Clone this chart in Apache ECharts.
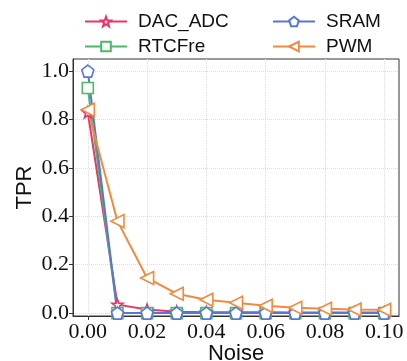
<!DOCTYPE html>
<html>
<head>
<meta charset="utf-8">
<script src="https://cdn.jsdelivr.net/npm/echarts@6/dist/echarts.min.js"></script>
<style>
  html, body { margin: 0; padding: 0; background: #fff; }
  #chart { width: 407px; height: 361px; }
</style>
</head>
<body>
<div id="chart"></div>
<script>
// data
var noise = [0, 0.01, 0.02, 0.03, 0.04, 0.05, 0.06, 0.07, 0.08, 0.09, 0.10];
var dacAdc = [0.83, 0.035, 0.015, 0.006, 0.004, 0.003, 0.003, 0.002, 0.002, 0.002, 0.002];
var rtcFre = [0.93, 0, 0, 0, 0, 0, 0, 0, 0, 0, 0];
var sram = [1.0, 0, 0, 0, 0, 0, 0, 0, 0, 0, 0];
var pwm = [0.84, 0.38, 0.145, 0.08, 0.055, 0.043, 0.03, 0.022, 0.018, 0.015, 0.014];
var xTicks = [0, 0.02, 0.04, 0.06, 0.08, 0.10];
var yTicks = [0, 0.2, 0.4, 0.6, 0.8, 1.0];

var STAR = 'path://M0,-1 L0.235,-0.324 L0.951,-0.309 L0.380,0.124 L0.588,0.809 L0,0.4 L-0.588,0.809 L-0.380,0.124 L-0.951,-0.309 L-0.235,-0.324 Z';
var PENTA = 'path://M0,-1 L0.951,-0.309 L0.588,0.809 L-0.588,0.809 L-0.951,-0.309 Z';

function pairs(ys) {
    var out = [];
    for (var i = 0; i < noise.length; i++) out.push([noise[i], ys[i]]);
    return out;
}

function mkSeries(name, ys, c, symbol, size, rot) {
    return {
        name: name,
        type: 'line',
        data: pairs(ys),
        symbol: symbol,
        symbolSize: size,
        symbolRotate: rot || 0,
        showAllSymbol: true,
        lineStyle: { color: c, width: 2 },
        itemStyle: { color: '#fff', borderColor: c, borderWidth: 1.6 },
        emphasis: { disabled: true },
        animation: false
    };
}

var sansFont = 'Liberation Sans';
var serifFont = 'Liberation Serif';

function legendAt(name, left, top) {
    return {
        data: [name],
        left: left,
        top: top,
        itemWidth: 42,
        itemHeight: 12,
        itemGap: 0,
        textStyle: { fontFamily: sansFont, fontSize: 19, color: '#111', padding: [0, 0, 0, 6] },
        selectedMode: false
    };
}

var myChart = echarts.init(document.getElementById('chart'));
var option = {
    backgroundColor: '#fff',
    animation: false,
    legend: [
        legendAt('DAC_ADC', 79, 7),
        legendAt('SRAM', 267, 7),
        legendAt('RTCFre', 79, 32),
        legendAt('PWM', 267, 32)
    ],
    grid: {
        left: 73, right: 8, top: 59, bottom: 45,
        outerBoundsMode: 'none',
        containLabel: false,
        show: true, borderColor: '#333', borderWidth: 1
    },
    xAxis: {
        type: 'value',
        min: -0.005,
        max: 0.105,
        name: 'Noise',
        nameLocation: 'middle',
        nameGap: 27,
        nameMoveOverlap: false,
        nameTextStyle: { fontFamily: sansFont, fontSize: 22, color: '#111' },
        axisLine: { show: true, onZero: false, lineStyle: { color: '#333' } },
        axisTick: { show: true, length: 4, customValues: xTicks, lineStyle: { color: '#333' } },
        axisLabel: {
            customValues: xTicks,
            formatter: function (v) { return v.toFixed(2); },
            fontFamily: serifFont, fontSize: 22, color: '#111', margin: 5
        },
        splitLine: { show: true, lineStyle: { color: '#dcdcdc', type: 'dotted' } }
    },
    yAxis: {
        type: 'value',
        min: -0.012,
        max: 1.05,
        name: 'TPR',
        nameLocation: 'middle',
        nameGap: 37,
        nameMoveOverlap: false,
        nameTextStyle: { fontFamily: sansFont, fontSize: 22, color: '#111' },
        axisLine: { show: true, onZero: false, lineStyle: { color: '#333' } },
        axisTick: { show: true, length: 4, customValues: yTicks, lineStyle: { color: '#333' } },
        axisLabel: {
            customValues: yTicks,
            formatter: function (v) { return v.toFixed(1); },
            fontFamily: serifFont, fontSize: 22, color: '#111', margin: 4
        },
        splitLine: { show: true, lineStyle: { color: '#dcdcdc', type: 'dotted' } }
    },
    series: [
        mkSeries('DAC_ADC', dacAdc, '#e8356a', STAR, 11),
        mkSeries('RTCFre', rtcFre, '#4cb966', 'rect', 11),
        mkSeries('SRAM', sram, '#5876d8', PENTA, 12),
        mkSeries('PWM', pwm, '#f28a3e', 'triangle', 13, 90)
    ]
};
myChart.setOption(option);
</script>
</body>
</html>
